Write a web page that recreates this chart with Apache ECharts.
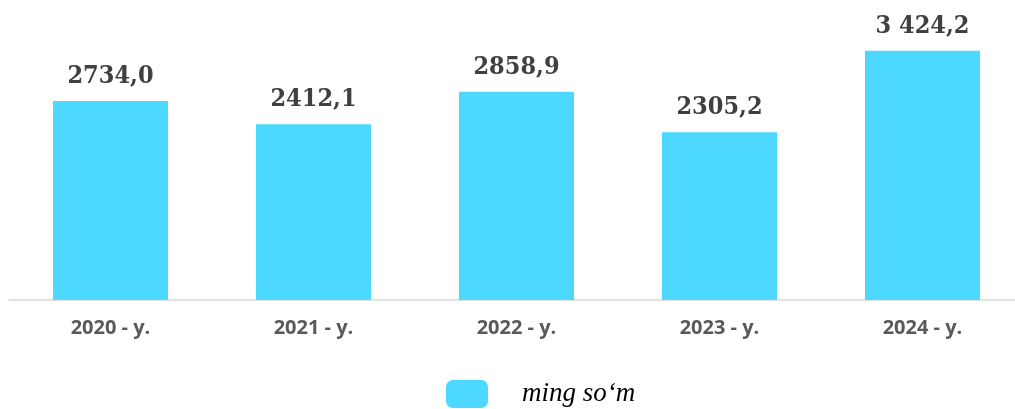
<!DOCTYPE html>
<html><head><meta charset="utf-8">
<script src="https://cdn.jsdelivr.net/npm/echarts@6/dist/echarts.min.js"></script>
<style>html,body{margin:0;padding:0;background:#fff;overflow:hidden}#c{width:1024px;height:409px}</style>
</head><body><div id="c"></div>
<script>
const categories = ['2020 - y.', '2021 - y.', '2022 - y.', '2023 - y.', '2024 - y.'];
const values = [2734.0, 2412.1, 2858.9, 2305.2, 3424.2];
const valueLabels = ['2734,0', '2412,1', '2858,9', '2305,2', '3 424,2'];
const seriesName = 'ming so‘m';

const chart = echarts.init(document.getElementById('c'));
chart.setOption({
  animation: false,
  grid: { left: 9, right: 0, top: 0, bottom: 109 },
  xAxis: {
    type: 'category', data: categories,
    axisLine: { lineStyle: { color: '#d9d9d9', width: 1.5 } },
    axisTick: { show: false },
    axisLabel: { color: '#595959', fontFamily: 'Open Sans', fontWeight: 'bold', fontSize: 20, margin: 18 }
  },
  yAxis: { type: 'value', min: 0, max: 4120, show: false, splitLine: { show: false } },
  legend: {
    left: 446, top: 380, padding: 0, itemWidth: 42, itemHeight: 28, icon: 'roundRect',
    textStyle: { fontFamily: 'Liberation Serif', fontStyle: 'italic', fontSize: 27, color: '#000', padding: [0, 0, 0, 29] },
    data: [seriesName]
  },
  series: [{
    name: seriesName, type: 'bar', data: values, barWidth: 115,
    itemStyle: { color: '#4DD9FF' },
    label: {
      show: true, position: 'top', distance: 12,
      formatter: p => valueLabels[p.dataIndex],
      fontFamily: 'DejaVu Serif Condensed', fontWeight: 'bold', fontSize: 25, color: '#404040'
    }
  }]
});
</script></body></html>
